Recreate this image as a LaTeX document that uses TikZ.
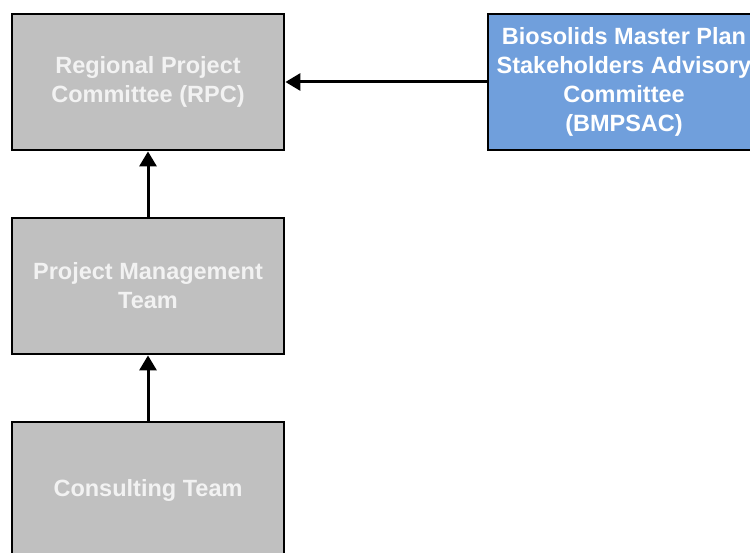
\documentclass[tikz,border=0pt]{standalone}
\usepackage{fontspec}
\setmainfont{Liberation Sans}
\usetikzlibrary{arrows.meta}
\definecolor{boxgray}{RGB}{192,192,192}
\definecolor{boxblue}{RGB}{112,159,220}
\definecolor{graytext}{RGB}{242,242,242}
\tikzset{
  orgbox/.style={draw=black, line width=2.8bp, minimum width=272bp, minimum height=136bp,
    inner sep=0pt, align=center, text=white, font=\fontsize{23.5bp}{29bp}\selectfont\bfseries},
  graybox/.style={orgbox, fill=boxgray, text=graytext},
  bluebox/.style={orgbox, fill=boxblue},
  link/.style={line width=3bp, -{Triangle[length=15bp,width=17bp]}}
}
\begin{document}
\begin{tikzpicture}[x=1bp,y=-1bp]
\useasboundingbox (0,0) rectangle (750,553);
\clip (0,0) rectangle (750,553);
\node[graybox] (rpc) at (148,82) {Regional Project\\Committee (RPC)};
\node[graybox] (pmt) at (148,286) {Project Management\\Team};
\node[graybox] (ct) at (148,490) {Consulting Team};
\node[bluebox] (bm) at (624,82) {Biosolids Master Plan\\Stakeholders Advisory\\Committee\\(BMPSAC)};
\draw[link] (pmt.north) -- (rpc.south);
\draw[link] (ct.north) -- (pmt.south);
\draw[link] (bm.west) -- (rpc.east);
\end{tikzpicture}
\end{document}
